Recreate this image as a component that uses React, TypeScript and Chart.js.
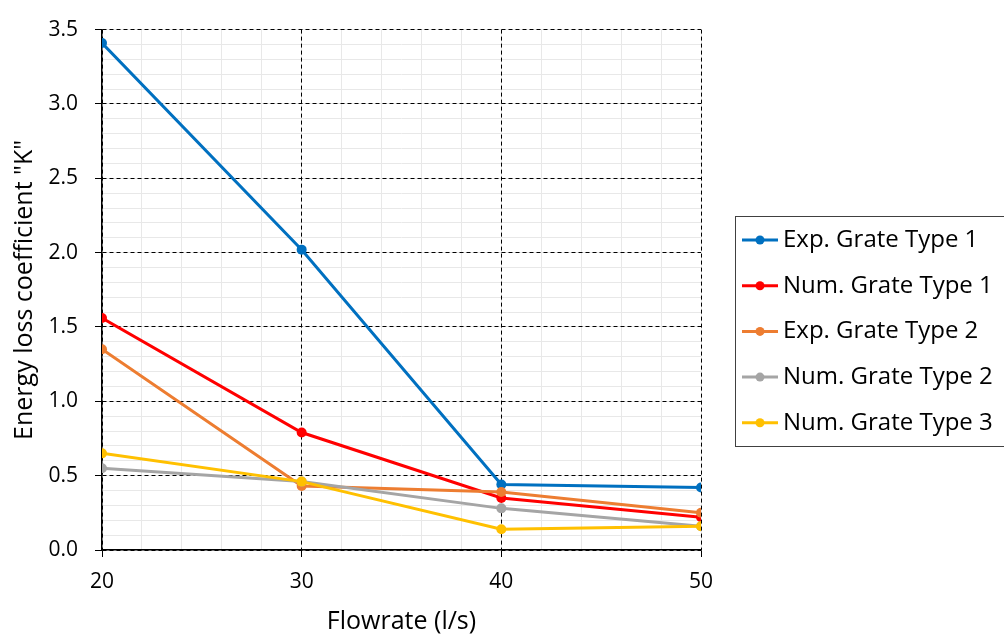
import React, { useEffect, useRef } from 'react';
import { Chart, registerables } from 'chart.js';

Chart.register(...registerables);

const flowrates = [20, 30, 40, 50];
const expGrateType1 = [3.41, 2.02, 0.44, 0.42];
const numGrateType1 = [1.56, 0.79, 0.35, 0.22];
const expGrateType2 = [1.35, 0.43, 0.39, 0.25];
const numGrateType2 = [0.55, 0.46, 0.28, 0.16];
const numGrateType3 = [0.65, 0.46, 0.14, 0.16];

const seriesNames = ['Exp. Grate Type 1', 'Num. Grate Type 1', 'Exp. Grate Type 2', 'Num. Grate Type 2', 'Num. Grate Type 3'];
const seriesValues = [expGrateType1, numGrateType1, expGrateType2, numGrateType2, numGrateType3];
const seriesColors = ['#0070C0', '#FF0000', '#ED7D31', '#A5A5A5', '#FFC000'];

const xTitle = 'Flowrate (l/s)';
const yTitle = 'Energy loss coefficient "K"';

const FONT = '"Open Sans", "Noto Sans", sans-serif';

const legendPlugin = {
  id: 'boxLegend',
  afterDraw(chart: any) {
    const ctx = chart.ctx as CanvasRenderingContext2D;
    ctx.save();
    ctx.strokeStyle = '#404040';
    ctx.lineWidth = 1;
    ctx.strokeRect(735.5, 216.5, 300, 230);
    chart.data.datasets.forEach((ds: any, i: number) => {
      const y = 240 + i * 45.7;
      ctx.strokeStyle = ds.borderColor;
      ctx.lineWidth = 3;
      ctx.beginPath();
      ctx.moveTo(742, y);
      ctx.lineTo(778, y);
      ctx.stroke();
      ctx.fillStyle = ds.borderColor;
      ctx.beginPath();
      ctx.arc(760, y, 4.5, 0, Math.PI * 2);
      ctx.fill();
      ctx.fillStyle = '#000';
      ctx.font = `24px ${FONT}`;
      ctx.textBaseline = 'middle';
      ctx.textAlign = 'left';
      ctx.fillText(ds.label, 783, y);
    });
    ctx.restore();
  },
};

export default function App() {
  const canvasRef = useRef<HTMLCanvasElement | null>(null);

  useEffect(() => {
    if (!canvasRef.current) return;
    const chart = new Chart(canvasRef.current, {
      type: 'line',
      data: {
        datasets: seriesNames.map((name, i) => ({
          label: name,
          data: flowrates.map((x, j) => ({ x, y: seriesValues[i][j] })),
          borderColor: seriesColors[i],
          backgroundColor: seriesColors[i],
          borderWidth: 3,
          pointRadius: 5,
          pointBorderWidth: 0,
          pointBackgroundColor: seriesColors[i],
          tension: 0,
          fill: false,
          order: seriesNames.length - 1 - i,
        })),
      },
      options: {
        animation: false,
        responsive: false,
        maintainAspectRatio: false,
        layout: { padding: { left: 0, right: 303, top: 16, bottom: 0 } },
        plugins: {
          legend: { display: false },
          tooltip: { enabled: false },
        },
        scales: {
          xMinor: {
            type: 'linear',
            position: 'bottom',
            min: 20,
            max: 50,
            z: -1,
            ticks: { display: false, stepSize: 2 },
            grid: { color: '#E8E8E8', lineWidth: 1, drawTicks: false },
            border: { display: false },
          },
          yMinor: {
            type: 'linear',
            position: 'left',
            min: 0,
            max: 3.5,
            z: -1,
            ticks: { display: false, stepSize: 0.1 },
            grid: { color: '#E8E8E8', lineWidth: 1, drawTicks: false },
            border: { display: false },
          },
          x: {
            type: 'linear',
            position: 'bottom',
            min: 20,
            max: 50,
            ticks: {
              stepSize: 10,
              color: '#000',
              padding: 12,
              font: { family: FONT, size: 21 },
              maxRotation: 0,
            },
            grid: { color: '#000', lineWidth: 1, tickLength: 7, tickColor: '#000' },
            border: { display: true, color: '#000', width: 1.5, dash: [4, 3] },
            title: {
              display: true,
              text: xTitle,
              color: '#000',
              font: { family: FONT, size: 25 },
              padding: { top: 4, bottom: 0 },
            },
            afterFit: (scale: any) => {
              scale.height = 87;
            },
          },
          y: {
            type: 'linear',
            position: 'left',
            min: 0,
            max: 3.5,
            ticks: {
              stepSize: 0.5,
              color: '#000',
              padding: 17,
              font: { family: FONT, size: 21 },
              callback: (v: any) => Number(v).toFixed(1),
            },
            grid: { color: '#000', lineWidth: 1, tickLength: 7, tickColor: '#000' },
            border: { display: true, color: '#000', width: 1.5, dash: [4, 3] },
            title: {
              display: true,
              text: yTitle,
              color: '#000',
              font: { family: FONT, size: 25 },
              padding: { top: 10, bottom: 4 },
            },
            afterFit: (scale: any) => {
              scale.width = 102;
            },
          },
        },
      },
      plugins: [legendPlugin],
    } as any);
    return () => chart.destroy();
  }, []);

  return (
    <div style={{ position: 'fixed', left: 0, top: 0, width: 1004, height: 637, background: '#fff' }}>
      <canvas ref={canvasRef} width={1004} height={637} style={{ width: 1004, height: 637 }} />
    </div>
  );
}
